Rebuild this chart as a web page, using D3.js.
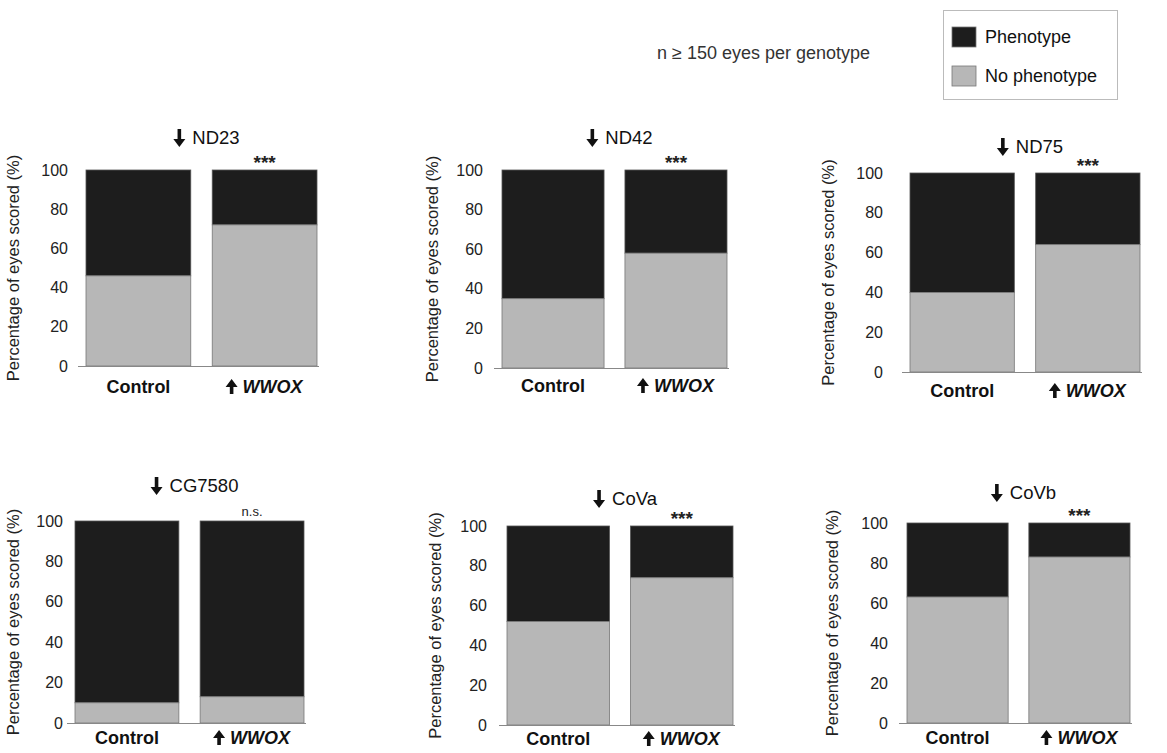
<!DOCTYPE html>
<html>
<head>
<meta charset="utf-8">
<script src="https://cdn.jsdelivr.net/npm/d3@7"></script>
<style>
  body { margin: 0; background: #fff; }
  svg text { font-family: "Liberation Sans", Arial, sans-serif; }
</style>
</head>
<body>
<div id="chart"></div>
<script>
// data (% of eyes with no phenotype; rest = phenotype)
const genes = ["ND23", "ND42", "ND75", "CG7580", "CoVa", "CoVb"];
const groups = ["Control", "WWOX"];
const noPhenoControl = [46, 35, 40, 10, 52, 63];
const noPhenoWwox = [72, 58, 64, 13, 74, 83];
const significance = ["***", "***", "***", "n.s.", "***", "***"];
const yTicks = [0, 20, 40, 60, 80, 100];
const legendLabels = ["Phenotype", "No phenotype"];

const dark = "#1d1d1d";
const light = "#b7b7b7";

// panel placement on the page
const panels = [
    {x0: 86,  x1: 317,  yTop: 170, yBot: 366, tickRight: 68,  labelX: 13,  titleY: 144, labDy: 27},
    {x0: 502, x1: 727,  yTop: 170, yBot: 368, tickRight: 483, labelX: 432, titleY: 144, labDy: 24},
    {x0: 910, x1: 1140, yTop: 173, yBot: 372, tickRight: 883, labelX: 828, titleY: 153, labDy: 25},
    {x0: 75,  x1: 304,  yTop: 521, yBot: 723, tickRight: 63,  labelX: 13,  titleY: 492, labDy: 21},
    {x0: 507, x1: 733,  yTop: 526, yBot: 725, tickRight: 487, labelX: 435, titleY: 505, labDy: 20},
    {x0: 907, x1: 1130, yTop: 523, yBot: 723, tickRight: 888, labelX: 832, titleY: 499, labDy: 21}
];

const svg = d3.select("#chart")
    .append("svg")
    .attr("width", 1167)
    .attr("height", 753);

function arrow(g, cx, yTop, h, down) {
    const hw = 6, sw = 1.8, head = 8;
    let p;
    if (down) {
        p = `M${cx - sw},${yTop} L${cx + sw},${yTop} L${cx + sw},${yTop + h - head} L${cx + hw},${yTop + h - head} L${cx},${yTop + h} L${cx - hw},${yTop + h - head} L${cx - sw},${yTop + h - head} Z`;
    } else {
        p = `M${cx},${yTop} L${cx + hw},${yTop + head} L${cx + sw},${yTop + head} L${cx + sw},${yTop + h} L${cx - sw},${yTop + h} L${cx - sw},${yTop + head} L${cx - hw},${yTop + head} Z`;
    }
    g.append("path").attr("d", p).attr("fill", "#111");
}

genes.forEach((gene, i) => {
    const p = panels[i];
    const g = svg.append("g").attr("class", "panel");

    const x = d3.scaleBand()
        .domain(groups)
        .range([p.x0, p.x1])
        .paddingInner(0.17);

    const y = d3.scaleLinear()
        .domain([0, 100])
        .range([p.yBot, p.yTop]);

    const rows = [
        {group: "Control", no: noPhenoControl[i]},
        {group: "WWOX", no: noPhenoWwox[i]}
    ];

    // phenotype (top, dark)
    g.selectAll("rect.pheno")
        .data(rows)
        .join("rect")
        .attr("class", "pheno")
        .attr("x", d => x(d.group))
        .attr("width", x.bandwidth())
        .attr("y", y(100))
        .attr("height", d => y(d.no) - y(100))
        .attr("fill", dark)
        .attr("stroke", "#555")
        .attr("stroke-width", 0.8);

    // no phenotype (bottom, light)
    g.selectAll("rect.nopheno")
        .data(rows)
        .join("rect")
        .attr("class", "nopheno")
        .attr("x", d => x(d.group))
        .attr("width", x.bandwidth())
        .attr("y", d => y(d.no))
        .attr("height", d => y(0) - y(d.no))
        .attr("fill", light)
        .attr("stroke", "#777")
        .attr("stroke-width", 0.8);

    // baseline
    g.append("line")
        .attr("x1", p.x0 - 8)
        .attr("x2", p.x1 + 2)
        .attr("y1", y(0) + 0.5)
        .attr("y2", y(0) + 0.5)
        .attr("stroke", "#888")
        .attr("stroke-width", 1);

    // y axis (labels only)
    const axis = g.append("g")
        .attr("transform", `translate(${p.tickRight},0)`)
        .call(d3.axisLeft(y).tickValues(yTicks).tickSize(0).tickPadding(0));
    axis.select(".domain").remove();
    axis.selectAll("text")
        .attr("font-size", 16)
        .attr("fill", "#222")
        .style("font-family", "'Liberation Sans', Arial, sans-serif");

    // y label
    g.append("text")
        .attr("transform", `translate(${p.labelX},${(p.yTop + p.yBot) / 2}) rotate(-90)`)
        .attr("text-anchor", "middle")
        .attr("dy", "0.35em")
        .attr("font-size", 16.5)
        .attr("fill", "#222")
        .text("Percentage of eyes scored (%)");

    // title with down arrow
    const gapCenter = (x("Control") + x.bandwidth() + x("WWOX")) / 2 + 5;
    const title = g.append("text")
        .attr("y", p.titleY)
        .attr("font-size", 18.5)
        .attr("fill", "#111")
        .text(gene);
    const tw = title.node().getComputedTextLength();
    const total = 12 + 7 + tw;
    const startX = gapCenter - total / 2;
    arrow(g, startX + 6, p.titleY - 15, 18, true);
    title.attr("x", startX + 19);

    // significance
    const ns = significance[i] === "n.s.";
    g.append("text")
        .attr("x", x("WWOX") + x.bandwidth() / 2)
        .attr("y", ns ? y(100) - 5 : y(100) - 1)
        .attr("text-anchor", "middle")
        .attr("font-size", ns ? 13 : 19)
        .attr("font-weight", ns ? "normal" : "bold")
        .attr("fill", "#222")
        .text(significance[i]);

    // x labels
    const labY = y(0) + p.labDy;
    g.append("text")
        .attr("x", x("Control") + x.bandwidth() / 2)
        .attr("y", labY)
        .attr("text-anchor", "middle")
        .attr("font-size", 18)
        .attr("font-weight", "bold")
        .attr("fill", "#111")
        .text("Control");

    const wl = g.append("text")
        .attr("y", labY)
        .attr("font-size", 18)
        .attr("font-weight", "bold")
        .attr("font-style", "italic")
        .attr("fill", "#111")
        .text("WWOX");
    const ww = wl.node().getComputedTextLength();
    const wStart = x("WWOX") + x.bandwidth() / 2 - (ww + 16) / 2;
    arrow(g, wStart + 5, labY - 14, 15, false);
    wl.attr("x", wStart + 16);
});

// note
svg.append("text")
    .attr("x", 657)
    .attr("y", 59)
    .attr("font-size", 18)
    .attr("fill", "#333")
    .text("n \u2265 150 eyes per genotype");

// legend
const legend = svg.append("g");
legend.append("rect")
    .attr("x", 943.5).attr("y", 10.5)
    .attr("width", 174).attr("height", 89)
    .attr("fill", "#fff")
    .attr("stroke", "#bbb");

legend.selectAll("g.item")
    .data(legendLabels)
    .join("g")
    .attr("class", "item")
    .attr("transform", (d, i) => `translate(952,${27 + i * 39})`)
    .each(function (d, i) {
        const it = d3.select(this);
        it.append("rect")
            .attr("width", 24).attr("height", 20)
            .attr("fill", i === 0 ? dark : light)
            .attr("stroke", "#777")
            .attr("stroke-width", 0.8);
        it.append("text")
            .attr("x", 33).attr("y", 16)
            .attr("font-size", 18)
            .attr("fill", "#111")
            .text(d);
    });
</script>
</body>
</html>
